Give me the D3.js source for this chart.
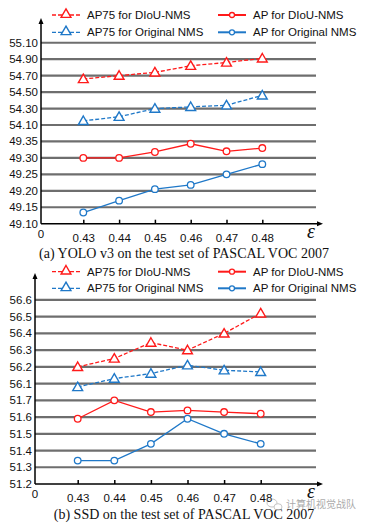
<!DOCTYPE html>
<html>
<head>
<meta charset="utf-8">
<script src="https://cdn.jsdelivr.net/npm/d3@7/dist/d3.min.js"></script>
<style>
  body { margin: 0; background: #fff; }
  svg { display: block; }
</style>
</head>
<body>
<script>
// x values (epsilon)
var eps = [0.43, 0.44, 0.45, 0.46, 0.47, 0.48];

// (a) YOLO v3
var yoloAP75Diou = [54.66, 54.70, 54.74, 54.82, 54.86, 54.91];
var yoloAP75Orig = [54.15, 54.20, 54.30, 54.32, 54.34, 54.46];
var yoloAPDiou = [49.30, 49.30, 49.318, 49.343, 49.32, 49.33];
var yoloAPOrig = [49.134, 49.17, 49.205, 49.218, 49.25, 49.281];
var yoloTicks = [49.10, 49.15, 49.20, 49.25, 49.30, 49.35, 54.10, 54.30, 54.50, 54.70, 54.90, 55.10];

// (b) SSD
var ssdAP75Diou = [56.20, 56.25, 56.345, 56.30, 56.40, 56.52];
var ssdAP75Orig = [56.08, 56.13, 56.16, 56.21, 56.18, 56.17];
var ssdAPDiou = [51.59, 51.70, 51.63, 51.64, 51.63, 51.62];
var ssdAPOrig = [51.34, 51.34, 51.44, 51.59, 51.50, 51.44];
var ssdTicks = [51.2, 51.3, 51.4, 51.5, 51.6, 51.7, 56.1, 56.2, 56.3, 56.4, 56.5, 56.6];

var legendNames = ["AP75 for DIoU-NMS", "AP75 for Original NMS", "AP for DIoU-NMS", "AP for Original NMS"];

var red = "#ff1a1a";
var blue = "#1f78c8";
var w = 366, h = 523;

var svg = d3.select("body").append("svg")
    .attr("width", w)
    .attr("height", h);

function drawPanel(cfg) {
    var g = svg.append("g");
    var ticks = cfg.ticks;
    // broken y axis: the jump from lower band to upper band takes one grid step
    var lowMax = ticks[5], highMin = ticks[6];
    var step = ticks[7] - ticks[6];
    var y = d3.scaleLinear()
        .domain([ticks[0], lowMax, highMin - step, ticks[11]])
        .range([cfg.bottom, cfg.bottom - 5 * cfg.gap, cfg.bottom - 5 * cfg.gap, cfg.bottom - 11 * cfg.gap]);
    var x = d3.scaleLinear()
        .domain([0.43, 0.48])
        .range([cfg.x0, cfg.x0 + 5 * cfg.dx]);

    // grid lines
    g.selectAll(".grid")
        .data(ticks.slice(1))
        .enter().append("line")
        .attr("x1", cfg.left)
        .attr("x2", 316)
        .attr("y1", function(d) { return y(d); })
        .attr("y2", function(d) { return y(d); })
        .attr("stroke", "#6e6e6e")
        .attr("stroke-width", 2.2);

    // y tick labels
    g.selectAll(".ylab")
        .data(ticks)
        .enter().append("text")
        .attr("x", cfg.left - 3)
        .attr("y", function(d) { return y(d); })
        .attr("dy", "0.35em")
        .attr("text-anchor", "end")
        .attr("font-family", "Liberation Sans, Arial, sans-serif")
        .attr("font-size", 11.5)
        .attr("fill", "#111")
        .text(function(d) { return d.toFixed(cfg.dec); });

    // x axis with inward ticks
    var xAxis = d3.axisBottom(x)
        .tickValues(eps)
        .tickSize(-4)
        .tickPadding(10)
        .tickFormat(d3.format(".2f"));
    var ax = g.append("g")
        .attr("transform", "translate(0," + cfg.bottom + ")")
        .call(xAxis);
    ax.select(".domain").remove();
    ax.selectAll(".tick line").attr("stroke", "#000").attr("stroke-width", 1.5);
    ax.selectAll(".tick text")
        .attr("font-family", "Liberation Sans, Arial, sans-serif")
        .attr("font-size", 11.5)
        .attr("fill", "#111");

    // "0" at origin
    g.append("text")
        .attr("x", cfg.left)
        .attr("y", cfg.bottom + 14)
        .attr("text-anchor", "middle")
        .attr("font-family", "Liberation Sans, Arial, sans-serif")
        .attr("font-size", 11.5)
        .attr("fill", "#111")
        .text("0");

    // axis lines with arrows
    g.append("line")
        .attr("x1", cfg.left).attr("x2", 319)
        .attr("y1", cfg.bottom).attr("y2", cfg.bottom)
        .attr("stroke", "#000").attr("stroke-width", 1.5);
    g.append("path")
        .attr("d", "M323," + cfg.bottom + "l-6,-2.5v5z")
        .attr("fill", "#000");
    g.append("line")
        .attr("x1", cfg.left).attr("x2", cfg.left)
        .attr("y1", cfg.bottom).attr("y2", cfg.top + 3)
        .attr("stroke", "#000").attr("stroke-width", 1.5);
    g.append("path")
        .attr("d", "M" + cfg.left + "," + (cfg.top - 1) + "l-2.5,6h5z")
        .attr("fill", "#000");

    // epsilon label
    g.append("text")
        .attr("x", 311)
        .attr("y", cfg.bottom + 14)
        .attr("text-anchor", "middle")
        .attr("font-family", "Liberation Serif, serif")
        .attr("font-style", "italic")
        .attr("font-size", 20)
        .attr("fill", "#111")
        .text("\u03b5");

    var line = d3.line()
        .x(function(d, i) { return x(eps[i]); })
        .y(function(d) { return y(d); });

    var series = [
        { v: cfg.ap75Diou, c: red, dash: "4,2", m: "tri" },
        { v: cfg.ap75Orig, c: blue, dash: "4,2", m: "tri" },
        { v: cfg.apDiou, c: red, dash: null, m: "circ" },
        { v: cfg.apOrig, c: blue, dash: null, m: "circ" }
    ];
    var tri = d3.symbol().type(d3.symbolTriangle).size(42);

    series.forEach(function(s) {
        g.append("path")
            .attr("d", line(s.v))
            .attr("fill", "none")
            .attr("stroke", s.c)
            .attr("stroke-width", 1.3)
            .attr("stroke-dasharray", s.dash);
        var pts = g.selectAll(null).data(s.v).enter();
        if (s.m === "tri") {
            pts.append("path")
                .attr("d", tri)
                .attr("transform", function(d, i) { return "translate(" + x(eps[i]) + "," + (y(d) + 0.8) + ")"; })
                .attr("fill", "#fff")
                .attr("stroke", s.c)
                .attr("stroke-width", 1.4);
        } else {
            pts.append("circle")
                .attr("cx", function(d, i) { return x(eps[i]); })
                .attr("cy", function(d) { return y(d); })
                .attr("r", 3.3)
                .attr("fill", "#fff")
                .attr("stroke", s.c)
                .attr("stroke-width", 1.3);
        }
    });

    // legend
    var leg = [
        { name: legendNames[0], c: red, dash: "4,2", m: "tri", lx: 52, ly: cfg.leg1 },
        { name: legendNames[1], c: blue, dash: "4,2", m: "tri", lx: 52, ly: cfg.leg2 },
        { name: legendNames[2], c: red, dash: null, m: "circ", lx: 218, ly: cfg.leg1 },
        { name: legendNames[3], c: blue, dash: null, m: "circ", lx: 218, ly: cfg.leg2 }
    ];
    leg.forEach(function(l) {
        g.append("line")
            .attr("x1", l.lx).attr("x2", l.lx + 28)
            .attr("y1", l.ly).attr("y2", l.ly)
            .attr("stroke", l.c)
            .attr("stroke-width", l.m === "tri" ? 1.3 : 2)
            .attr("stroke-dasharray", l.dash);
        if (l.m === "tri") {
            g.append("path")
                .attr("d", tri)
                .attr("transform", "translate(" + (l.lx + 14) + "," + (l.ly - 0.5) + ")")
                .attr("fill", "#fff")
                .attr("stroke", l.c)
                .attr("stroke-width", 1.4);
        } else {
            g.append("circle")
                .attr("cx", l.lx + 14).attr("cy", l.ly)
                .attr("r", 2.5)
                .attr("fill", "#fff")
                .attr("stroke", l.c)
                .attr("stroke-width", 1.3);
        }
        g.append("text")
            .attr("x", l.lx + 35)
            .attr("y", l.ly)
            .attr("dy", "0.35em")
            .attr("font-family", "Liberation Sans, Arial, sans-serif")
            .attr("font-size", 11.5)
            .attr("fill", "#111")
            .text(l.name);
    });

    // caption
    g.append("text")
        .attr("x", 184)
        .attr("y", cfg.capY)
        .attr("text-anchor", "middle")
        .attr("font-family", "Liberation Serif, Times New Roman, serif")
        .attr("font-size", 14)
        .attr("fill", "#111")
        .text(cfg.caption);
}

drawPanel({
    ticks: yoloTicks, dec: 2, left: 41, top: 19, bottom: 223.7, gap: 16.45,
    x0: 83.3, dx: 35.8,
    ap75Diou: yoloAP75Diou, ap75Orig: yoloAP75Orig, apDiou: yoloAPDiou, apOrig: yoloAPOrig,
    leg1: 15, leg2: 32.3, capY: 258,
    caption: "(a) YOLO v3 on the test set of PASCAL VOC 2007"
});

drawPanel({
    ticks: ssdTicks, dec: 1, left: 35, top: 274, bottom: 484, gap: 16.73,
    x0: 77.7, dx: 36.6,
    ap75Diou: ssdAP75Diou, ap75Orig: ssdAP75Orig, apDiou: ssdAPDiou, apOrig: ssdAPOrig,
    leg1: 271.7, leg2: 288.3, capY: 519,
    caption: "(b) SSD on the test set of PASCAL VOC 2007"
});

// watermark (icon + text)
var wm = svg.append("g").attr("opacity", 0.55);
wm.append("ellipse").attr("cx", 272).attr("cy", 503).attr("rx", 5).attr("ry", 4)
    .attr("fill", "none").attr("stroke", "#999").attr("stroke-width", 1);
wm.append("ellipse").attr("cx", 278).attr("cy", 507).attr("rx", 4).attr("ry", 3.3)
    .attr("fill", "#fff").attr("stroke", "#999").attr("stroke-width", 1);
wm.append("text")
    .attr("x", 286)
    .attr("y", 508)
    .attr("font-family", "Noto Sans CJK SC, sans-serif")
    .attr("font-size", 10)
    .attr("fill", "#666")
    .text("计算机视觉战队");
</script>
</body>
</html>
